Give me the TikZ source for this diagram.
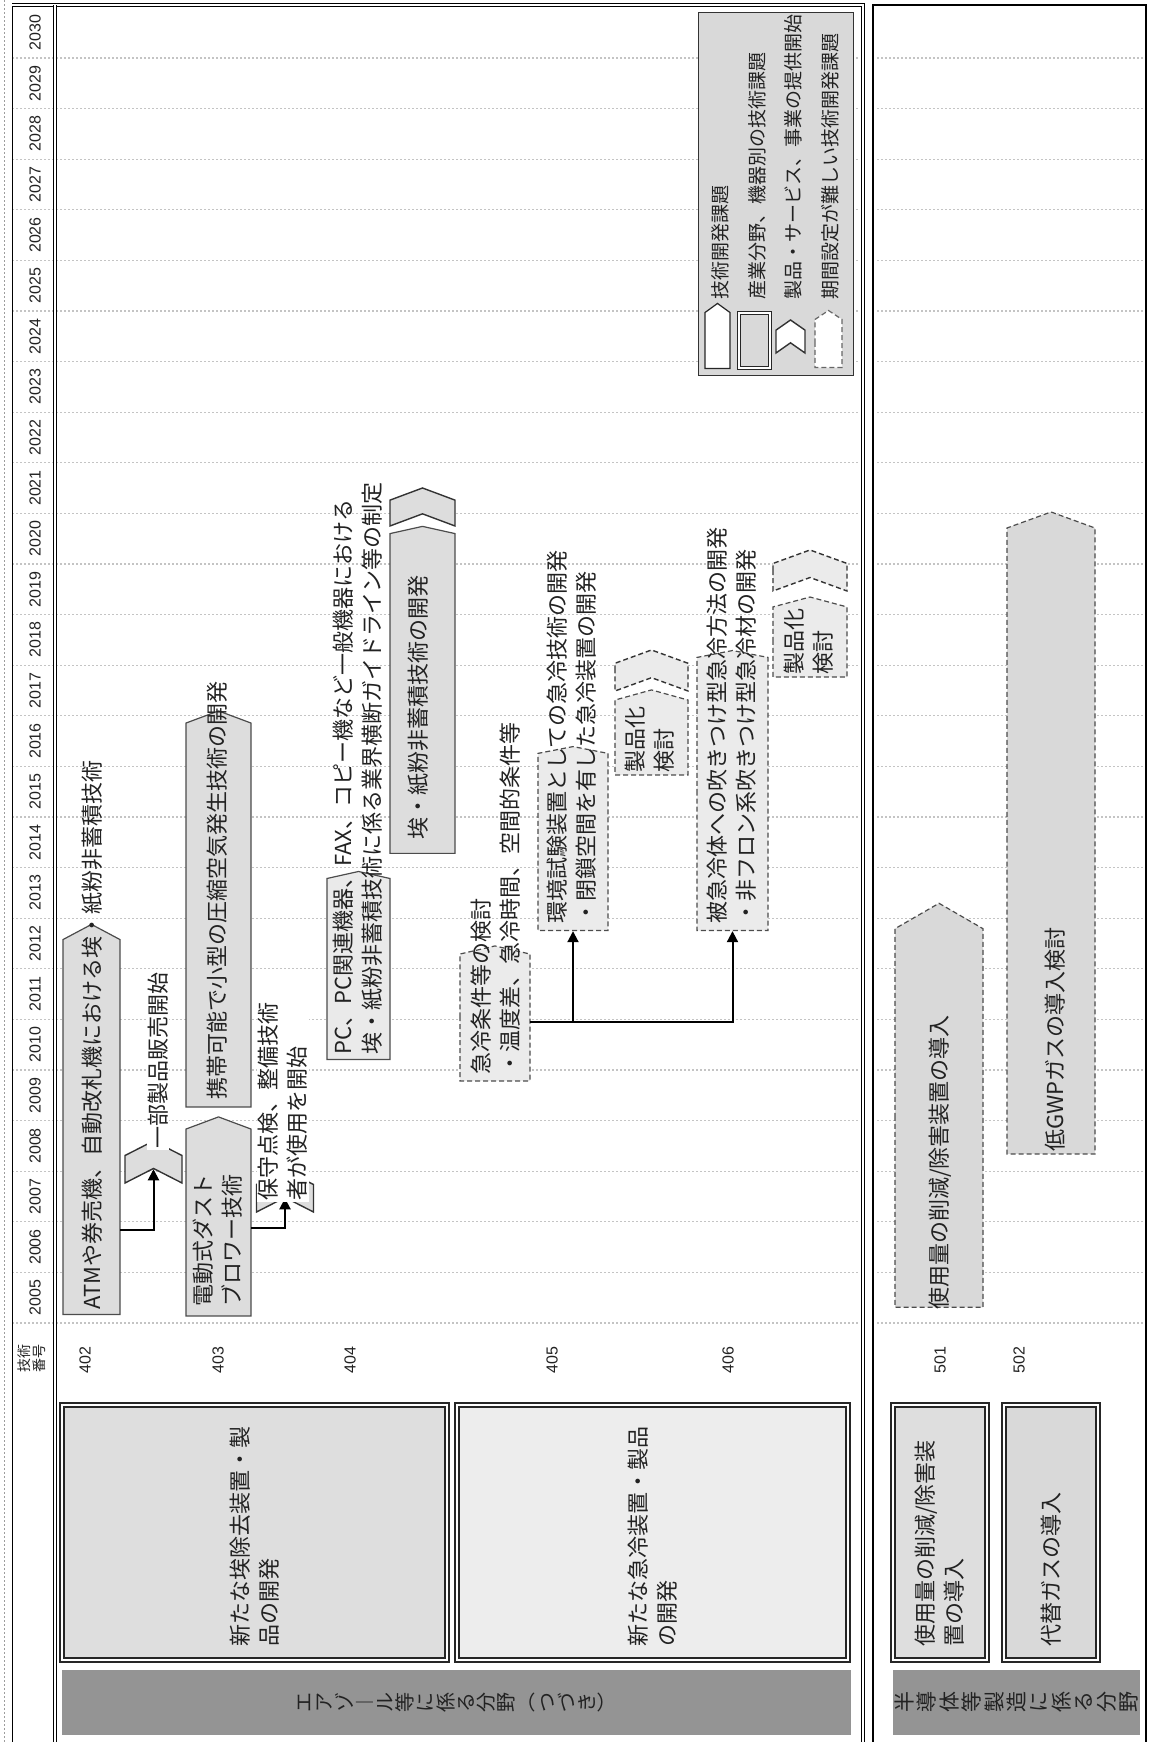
\documentclass[tikz,border=0pt]{standalone}
\usepackage{fontspec}
\setmainfont{Noto Sans CJK JP}
\newfontfamily\numfont{Liberation Sans}
\usepackage{tikz}
\usetikzlibrary{arrows.meta,shapes.symbols}
\definecolor{tgrey}{HTML}{DDDDDD}
\definecolor{dgrey}{HTML}{EBEBEB}
\definecolor{sgrey}{HTML}{D9D9D9}
\definecolor{cgrey}{HTML}{DEDEDE}
\definecolor{lgrey}{HTML}{EDEDED}
\definecolor{bgrey}{HTML}{949494}
\definecolor{ggrey}{HTML}{C4C4C4}
\definecolor{ink}{HTML}{222222}
\newcommand{\jpfont}{\fontsize{22}{29}\selectfont}
\tikzset{
  tech/.style={signal,signal to=east,draw=black!70,line width=1.2pt,fill=tgrey,inner sep=0pt},
  techd/.style={tech,dash pattern=on 5pt off 3pt,fill=dgrey},
  chev/.style={signal,signal from=west,signal to=east,draw=black!80,line width=1.4pt,fill=tgrey,inner sep=0pt},
  chevd/.style={chev,dash pattern=on 5pt off 3pt,fill=dgrey},
  catbox/.style={draw=black!85,line width=1.8pt,double=white,double distance=2.5pt,align=left,
                 text width=229pt,inner xsep=13pt,minimum width=255pt,font=\jpfont,text=ink},
  band/.style={fill=bgrey,inner sep=0pt,align=center,text=ink},
  lbl/.style={anchor=west,align=left,inner sep=0pt,font=\jpfont,text=ink},
  conn/.style={-{Triangle[length=11pt,width=11pt]},line width=2pt},
  grid/.style={ggrey,line width=1.3pt,dash pattern=on 1.5pt off 2.5pt},
  yr/.style={font=\numfont\fontsize{16}{16}\selectfont,text=ink},
  frame/.style={draw=black,line width=0.9pt,double=white,double distance=1.8pt},
}

\begin{document}
\begin{tikzpicture}[x=1pt,y=1pt,rotate=90,transform shape]
\useasboundingbox (0,0) rectangle (1742,-1148);
% year grid
\foreach \k in {0,...,25}{
  \draw[grid] ({419+50.6*\k},-12) -- ({419+50.6*\k},-860);
  \draw[grid] ({419+50.6*\k},-877) -- ({419+50.6*\k},-1144);
}
\foreach \yr [count=\k from 0] in {2005,...,2030}
  \node[yr] (y\yr) at ({444.3+50.6*\k},-35) {\yr};
% frames
\draw[ggrey!80!black,line width=1pt,dash pattern=on 2pt off 2pt] (0,-4) -- (1742,-4);
\draw[line width=1pt] (0,-12) -- (1737,-12);
\draw[frame] (1737,-12) -- (1737,-863) -- (0,-863);
\draw[frame] (0,-55) -- (1737,-55);
\draw[line width=1.5pt] (0,-873) -- (1737,-873) -- (1737,-1146) -- (0,-1146);
% header and numbers
\node[font=\fontsize{14}{15}\selectfont,align=center,text=ink] (hd) at (383,-32) {技術\\番号};
\node[yr] (n402) at (382,-85) {402};
\node[yr] (n403) at (382,-218) {403};
\node[yr] (n404) at (382,-350) {404};
\node[yr] (n405) at (382,-552) {405};
\node[yr] (n406) at (382,-728) {406};
\node[yr] (n501) at (382,-940) {501};
\node[yr] (n502) at (382,-1019) {502};
% categories
\node[catbox,fill=cgrey,minimum height=385pt] (k402) at (209.5,-254.5) {新たな埃除去装置・製\\品の開発};
\node[catbox,fill=lgrey,minimum height=391pt] (k405) at (209.5,-652.5) {新たな急冷装置・製品\\の開発};
\node[catbox,fill=cgrey,minimum height=94pt] (k501) at (209.5,-940) {使用量の削減/除害装\\置の導入};
\node[catbox,fill=sgrey,minimum height=94pt] (k502) at (209.5,-1051) {代替ガスの導入};
\node[band,font=\fontsize{20}{20.2}\selectfont,minimum width=65pt,minimum height=789pt] (aero) at (39.5,-456.5)
  {エ\\ア\\ゾ\\︱\\ル\\等\\に\\係\\る\\分\\野\\︵\\つ\\づ\\き\\︶};
\node[band,font=\fontsize{21}{22.4}\selectfont,minimum width=65pt,minimum height=247pt] (semi) at (39.5,-1016.5)
  {半\\導\\体\\等\\製\\造\\に\\係\\る\\分\\野};
% row 402
\node[tech,minimum width=390pt,minimum height=57pt,signal pointer angle=124] (atm) at (615,-91.5) {};
\node[chev,minimum width=42pt,minimum height=57pt,signal pointer angle=126] (sale) at (580,-153.5) {};
\coordinate (c1) at (512,-120);
\draw[conn] (c1) |- (sale);
\node[lbl] (t402) at (432,-92) {ATMや券売機、自動改札機における埃・紙粉非蓄積技術};
\node[lbl,fill=white,inner sep=1pt] (tsale) at (592,-158) {一部製品販売開始};
% row 403
\node[tech,minimum width=199pt,minimum height=65pt,signal pointer angle=139] (dust) at (519.5,-218.5) {};
\node[tech,minimum width=396pt,minimum height=65pt,signal pointer angle=139] (port) at (827,-218.5) {};
\node[chev,minimum width=42pt,minimum height=57pt,signal pointer angle=126] (maint) at (551,-285) {};
\coordinate (c2) at (514,-251);
\draw[conn] (c2) |- (maint);
\node[lbl] (t403a) at (435,-218) {電動式ダスト\\ブロワー技術};
\node[lbl] (t403b) at (642,-217) {携帯可能で小型の圧縮空気発生技術の開発};
\node[lbl,fill=white,inner sep=1pt] (tmaint) at (540,-283) {保守点検、整備技術\\者が使用を開始};
% row 404
\node[tech,fill=lgrey!80!tgrey,minimum width=188pt,minimum height=63pt,signal pointer angle=155] (pc) at (773,-358.5) {};
\node[tech,minimum width=327pt,minimum height=65pt,signal pointer angle=155] (dev) at (1048.5,-422.5) {};
\node[chev,minimum width=38pt,minimum height=65pt,signal pointer angle=139] (c404) at (1235,-422.5) {};
\node[lbl] (t404a) at (687,-358) {PC、PC関連機器、FAX、コピー機など一般機器における\\埃・紙粉非蓄積技術に係る業界横断ガイドライン等の制定};
\node[lbl] (t404b) at (902,-418) {埃・紙粉非蓄積技術の開発};
% row 405
\node[techd,minimum width=135pt,minimum height=70pt,signal pointer angle=154] (cond) at (724.5,-495) {};
\node[techd,minimum width=184pt,minimum height=70pt,signal pointer angle=158] (env) at (900,-573) {};
\node[techd,minimum width=85pt,minimum height=73pt,signal pointer angle=149] (p405) at (1004.5,-651.5) {};
\node[chevd,minimum width=41pt,minimum height=73pt,signal pointer angle=140] (c405) at (1071.5,-651.5) {};
\node[lbl] (t405a) at (667,-496) {急冷条件等の検討\\・温度差、急冷時間、空間的条件等};
\node[lbl] (t405b) at (818,-572) {環境試験装置としての急冷技術の開発\\・閉鎖空間を有した急冷装置の開発};
\node[lbl] (t405c) at (969,-650) {製品化\\検討};
% row 406
\node[techd,minimum width=280pt,minimum height=71pt,signal pointer angle=158] (blow) at (948,-732.5) {};
\node[techd,minimum width=80pt,minimum height=74pt,signal pointer angle=150] (p406) at (1100,-810) {};
\node[chevd,minimum width=41pt,minimum height=74pt,signal pointer angle=140] (c406) at (1171.5,-810) {};
\coordinate (c3) at (720,-530);
\draw[conn] (c3) |- (env);
\draw[conn] (c3) |- (blow);
\node[lbl] (t406a) at (818,-732) {被急冷体への吹きつけ型急冷方法の開発\\・非フロン系吹きつけ型急冷材の開発};
\node[lbl] (t406b) at (1067,-809) {製品化\\検討};
% rows 501, 502
\node[techd,fill=sgrey,minimum width=404pt,minimum height=88pt,signal pointer angle=120] (g501) at (624,-939) {};
\node[techd,fill=sgrey,minimum width=642pt,minimum height=88pt,signal pointer angle=140] (g502) at (901,-1051) {};
\node[lbl] (t501) at (432,-940) {使用量の削減/除害装置の導入};
\node[lbl] (t502) at (590,-1055) {低GWPガスの導入検討};
% legend
\node[draw=black!80,line width=1pt,fill=sgrey,minimum width=363pt,minimum height=155pt] (legend) at (1547.5,-775.5) {};
\node[tech,fill=white,draw=black!85,minimum width=65pt,minimum height=25pt,signal pointer angle=108] (lg1) at (1401.5,-717.5) {};
\node[draw=black!85,line width=1.5pt,double=white,double distance=1.5pt,fill=sgrey,minimum width=55pt,minimum height=31pt,inner sep=0pt] (lg2) at (1401.5,-754.5) {};
\node[chev,fill=white,minimum width=33pt,minimum height=29pt,signal pointer angle=110] (lg3) at (1405.5,-790.5) {};
\node[techd,fill=white,draw=black!60,minimum width=57pt,minimum height=27pt,signal pointer angle=113] (lg4) at (1398.5,-828.5) {};
\node[lbl,font=\fontsize{19}{19}\selectfont] (tl1) at (1442,-720) {技術開発課題};
\node[lbl,font=\fontsize{19}{19}\selectfont] (tl2) at (1442,-757) {産業分野、機器別の技術課題};
\node[lbl,font=\fontsize{19}{19}\selectfont] (tl3) at (1442,-793) {製品・サービス、事業の提供開始};
\node[lbl,font=\fontsize{19}{19}\selectfont] (tl4) at (1442,-830) {期間設定が難しい技術開発課題};
\end{tikzpicture}
\end{document}
